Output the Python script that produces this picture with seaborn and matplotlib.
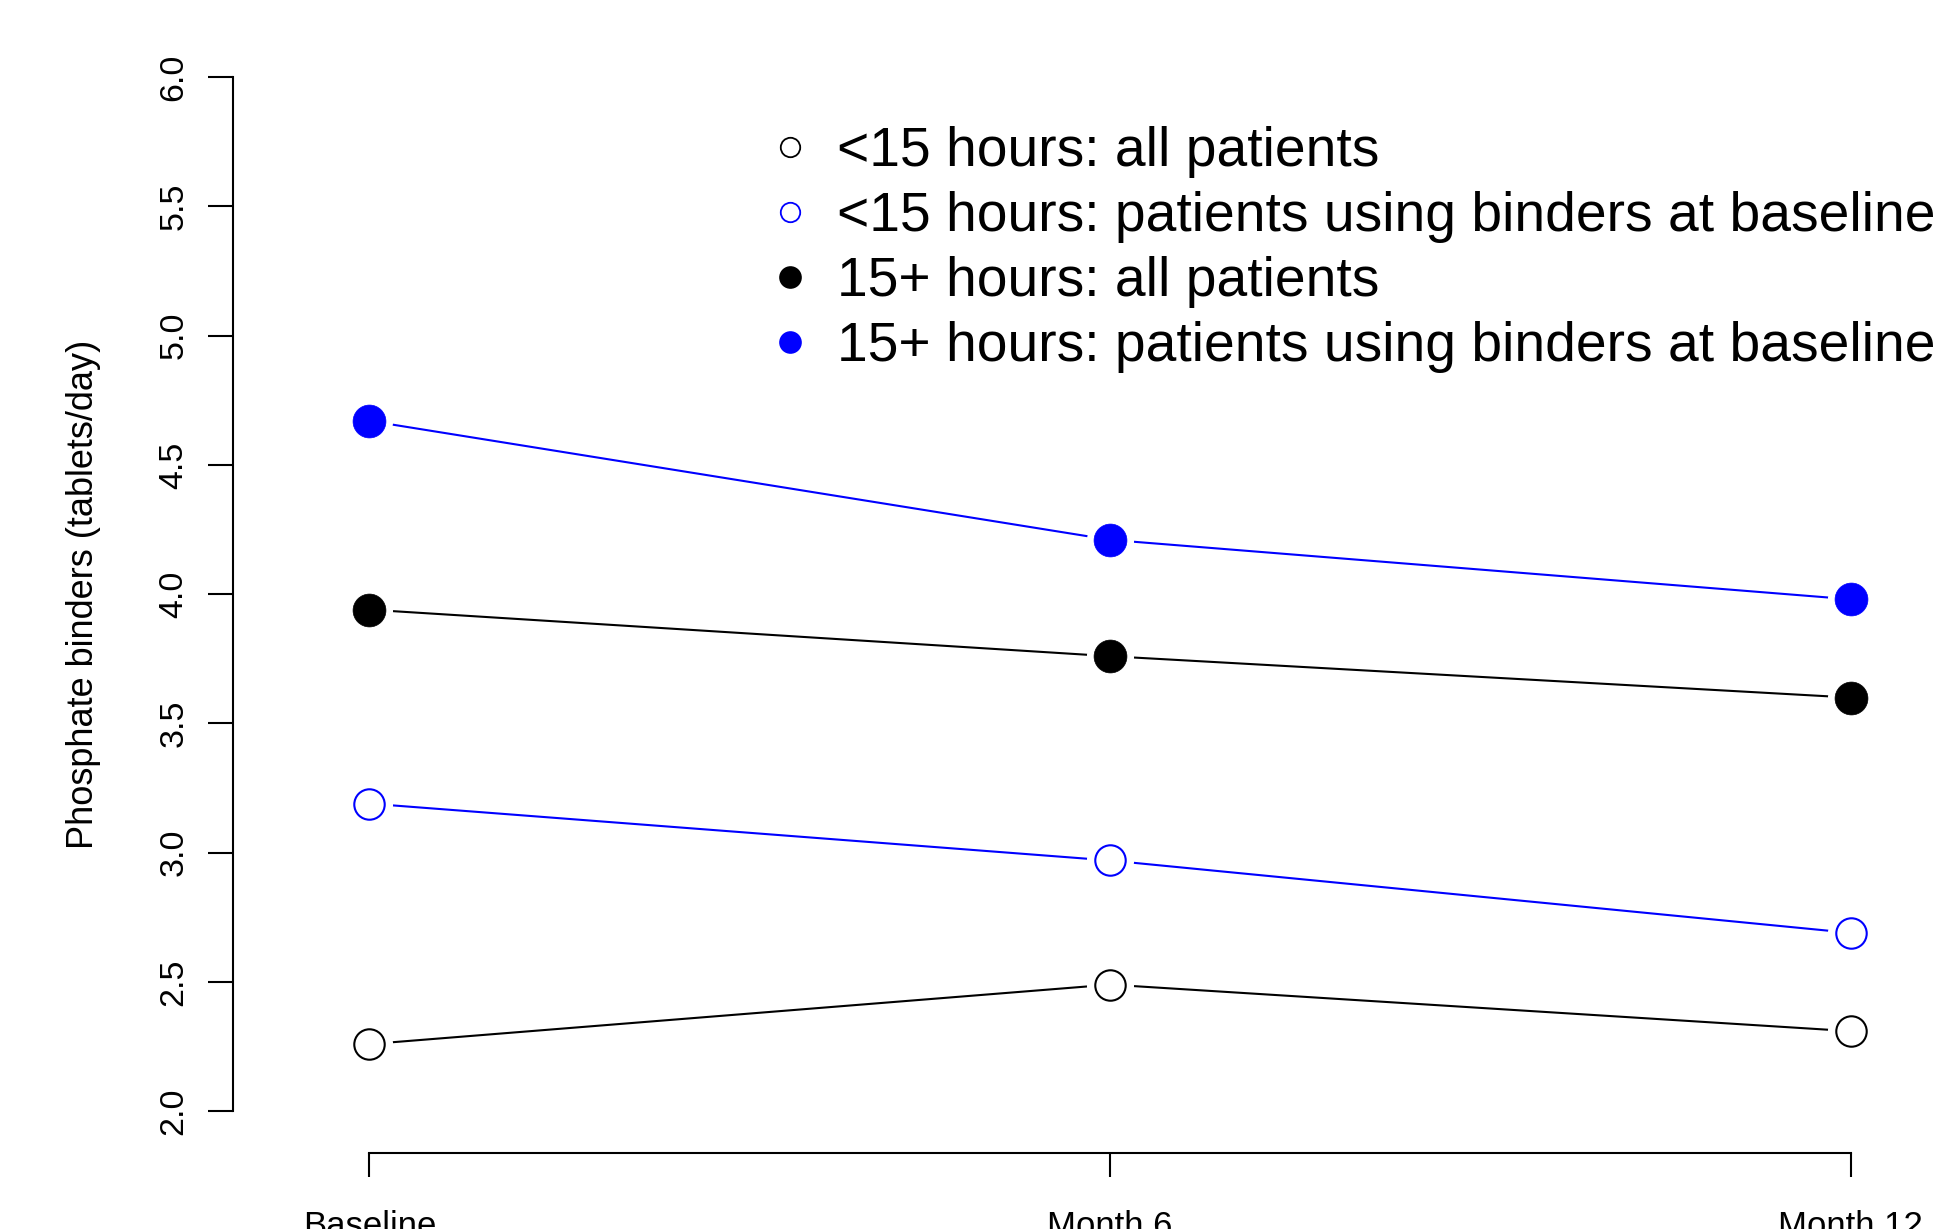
import numpy as np
import pandas as pd
import matplotlib
matplotlib.use("Agg")
import matplotlib.pyplot as plt
from matplotlib.lines import Line2D
import seaborn as sns

# values
visits = ["Baseline", "Month 6", "Month 12"]
lt15_all = [2.26, 2.49, 2.31]
lt15_binders = [3.19, 2.97, 2.69]
ge15_all = [3.94, 3.76, 3.60]
ge15_binders = [4.67, 4.21, 3.98]

series_names = ["<15 hours: all patients",
                "<15 hours: patients using binders at baseline",
                "15+ hours: all patients",
                "15+ hours: patients using binders at baseline"]
series_values = [lt15_all, lt15_binders, ge15_all, ge15_binders]
series_colors = ["black", "blue", "black", "blue"]
series_filled = [False, False, True, True]

rows = []
for name, vals in zip(series_names, series_values):
    for i, v in enumerate(vals):
        rows.append({"visit": i + 1, "value": v, "group": name})
df = pd.DataFrame(rows)

sns.set_theme(style="ticks")
plt.rcParams["font.family"] = ["Liberation Sans", "DejaVu Sans"]
plt.rcParams["text.color"] = "black"
plt.rcParams["axes.labelcolor"] = "black"
plt.rcParams["xtick.color"] = "black"
plt.rcParams["ytick.color"] = "black"

W, H = 1939, 1229
fig = plt.figure(figsize=(W / 100, H / 100), dpi=100)
left_px, bottom_px, top_px = 232.5, 1152.7, 35.6
ax = fig.add_axes([left_px / W, 1 - bottom_px / H, 1 - left_px / W, (bottom_px - top_px) / H])

for name, col, filled in zip(series_names, series_colors, series_filled):
    d = df[df["group"] == name]
    sns.lineplot(data=d, x="visit", y="value", color=col, linewidth=1.5, ax=ax, zorder=1)
    # white halo so the line stops short of the point, like R type="b"
    sns.scatterplot(data=d, x="visit", y="value", s=1150, color="white", linewidth=0, ax=ax, zorder=2)
    if filled:
        sns.scatterplot(data=d, x="visit", y="value", s=560, color=col, edgecolor=col,
                        linewidth=0.5, ax=ax, zorder=3)
    else:
        sns.scatterplot(data=d, x="visit", y="value", s=480, facecolor="white", edgecolor=col,
                        linewidth=1.5, ax=ax, zorder=3)

ax.set_xlim(0.8153, 3.119)
ax.set_ylim(1.84, 6.16)
ax.set_xticks([1, 2, 3])
ax.set_xticklabels(visits)
ax.set_yticks(np.arange(2.0, 6.01, 0.5))
ax.set_yticklabels([f"{v:.1f}" for v in np.arange(2.0, 6.01, 0.5)])
ax.set_xlabel("")
ax.set_ylabel("Phosphate binders (tablets/day)", fontsize=26)
ax.yaxis.set_label_coords((101 - left_px) / (W - left_px), 0.5)

sns.despine(ax=ax)
ax.spines["left"].set_bounds(2, 6)
ax.spines["bottom"].set_bounds(1, 3)
for s in ["left", "bottom"]:
    ax.spines[s].set_linewidth(1.5)
    ax.spines[s].set_color("black")

ax.tick_params(axis="x", length=17, width=1.5, pad=24, labelsize=25, color="black")
ax.tick_params(axis="y", length=18, width=1.5, pad=13, labelsize=24.5, color="black")
for lab in ax.get_yticklabels():
    lab.set_rotation(90)
    lab.set_va("center")
    lab.set_ha("right")
ax.grid(False)

handles = []
for col, filled in zip(series_colors, series_filled):
    handles.append(Line2D([], [], linestyle="", marker="o", markersize=15 if filled else 14,
                          markerfacecolor=col if filled else "white", markeredgecolor=col,
                          markeredgewidth=1.3))
ax.legend(handles, series_names, loc="upper left", bbox_to_anchor=(762.9 / W, 1 - 126 / H),
          bbox_transform=fig.transFigure, frameon=False, fontsize=39.7, handlelength=0.98,
          handletextpad=0.36, labelspacing=0.235, borderpad=0, borderaxespad=0, numpoints=1)

fig.savefig("out.png", dpi=100)
